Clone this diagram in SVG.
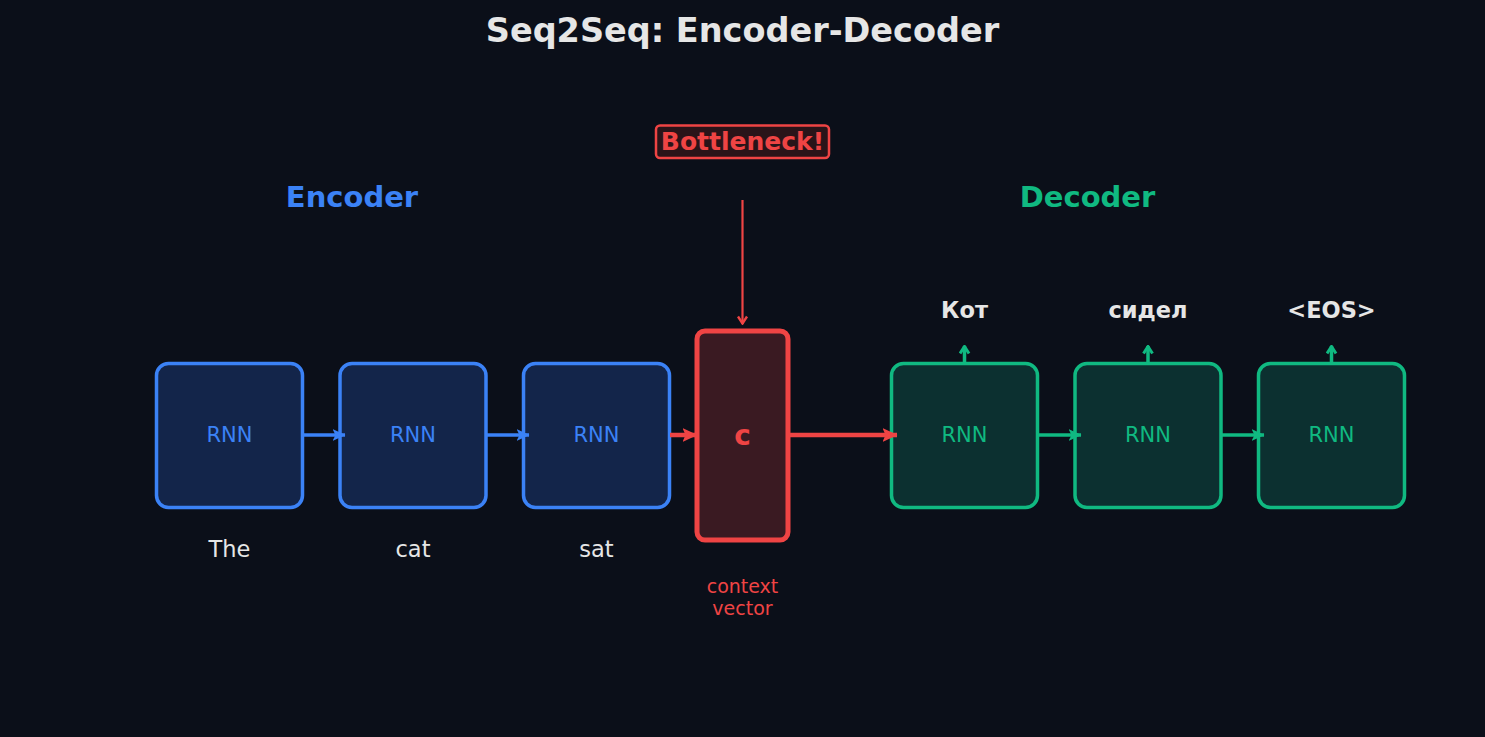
<svg xmlns="http://www.w3.org/2000/svg" width="1485" height="737" viewBox="0 0 1485 737">
<defs>
<style>
text{font-family:"DejaVu Sans","Noto Sans",sans-serif;text-anchor:middle;dominant-baseline:central}
.enc rect{fill:#13254a;stroke:#3b82f6;stroke-width:3.5}
.dec rect{fill:#0c3030;stroke:#10b981;stroke-width:3.5}
.rnnE{fill:#3b82f6;font-size:21px}
.rnnD{fill:#10b981;font-size:21px}
.word{fill:#e6e6e6;font-size:22.5px}
.out{fill:#e6e6e6;font-size:22.5px;font-weight:bold}
.b{stroke:#3b82f6;stroke-width:3.5;fill:none}
.g{stroke:#10b981;stroke-width:3.5;fill:none}
.r{stroke:#ef4444;stroke-width:4.5;fill:none}
</style>
<marker id="mb" viewBox="0 0 13 13" refX="12.5" refY="6.5" markerWidth="13" markerHeight="13" orient="auto" markerUnits="userSpaceOnUse"><path d="M0,0.5 L13,6.5 L0,12.5 L3,6.5 Z" fill="#3b82f6"/></marker>
<marker id="mg" viewBox="0 0 13 13" refX="12.5" refY="6.5" markerWidth="13" markerHeight="13" orient="auto" markerUnits="userSpaceOnUse"><path d="M0,0.5 L13,6.5 L0,12.5 L3,6.5 Z" fill="#10b981"/></marker>
<marker id="mr" viewBox="0 0 15 15" refX="14.5" refY="7.5" markerWidth="15" markerHeight="15" orient="auto" markerUnits="userSpaceOnUse"><path d="M0,0.5 L15,7.5 L0,14.5 L3,7.5 Z" fill="#ef4444"/></marker>
<marker id="mgo" viewBox="0 0 10 12" refX="9" refY="6" markerWidth="10" markerHeight="12" orient="auto" markerUnits="userSpaceOnUse"><path d="M1.5,1.5 L8.5,6 L1.5,10.5" fill="none" stroke="#10b981" stroke-width="3"/></marker>
<marker id="mro" viewBox="0 0 10 12" refX="9" refY="6" markerWidth="10" markerHeight="12" orient="auto" markerUnits="userSpaceOnUse"><path d="M1.5,1.5 L8.5,6 L1.5,10.5" fill="none" stroke="#ef4444" stroke-width="2.4"/></marker>
</defs>
<rect width="1485" height="737" fill="#0b0f19"/>
<text x="742.5" y="30" font-size="33.5" font-weight="bold" fill="#e6e6e6">Seq2Seq: Encoder-Decoder</text>
<text x="352" y="197" font-size="29" font-weight="bold" fill="#3b82f6">Encoder</text>
<text x="1087.5" y="197" font-size="29" font-weight="bold" fill="#10b981">Decoder</text>
<g id="bottleneck">
<rect x="656" y="125.5" width="173" height="32.5" rx="4" fill="#2a1419" stroke="#ef4444" stroke-width="2.5"/>
<text x="742.5" y="141.5" font-size="25" font-weight="bold" fill="#ef4444">Bottleneck!</text>
</g>
<g id="enc1" class="enc"><rect x="156.5" y="363.5" width="146" height="144" rx="12"/><text class="rnnE" x="229.5" y="435">RNN</text></g>
<g id="enc2" class="enc"><rect x="340" y="363.5" width="146" height="144" rx="12"/><text class="rnnE" x="413" y="435">RNN</text></g>
<g id="enc3" class="enc"><rect x="523.5" y="363.5" width="146" height="144" rx="12"/><text class="rnnE" x="596.5" y="435">RNN</text></g>
<text class="word" x="229.5" y="549">The</text>
<text class="word" x="413" y="549">cat</text>
<text class="word" x="596.5" y="549">sat</text>
<g id="context">
<rect x="697" y="331" width="91" height="209" rx="8" fill="#3a1a22" stroke="#ef4444" stroke-width="5"/>
<text x="742.5" y="435" font-size="28" font-weight="bold" fill="#ef4444">c</text>
<text x="742.5" y="586" font-size="19" fill="#ef4444">context</text>
<text x="742.5" y="608" font-size="19" fill="#ef4444">vector</text>
</g>
<g id="dec1" class="dec"><rect x="891.5" y="363.5" width="146" height="144" rx="12"/><text class="rnnD" x="964.5" y="435">RNN</text></g>
<g id="dec2" class="dec"><rect x="1075" y="363.5" width="146" height="144" rx="12"/><text class="rnnD" x="1148" y="435">RNN</text></g>
<g id="dec3" class="dec"><rect x="1258.5" y="363.5" width="146" height="144" rx="12"/><text class="rnnD" x="1331.5" y="435">RNN</text></g>
<text class="out" x="964.5" y="310">Кот</text>
<text class="out" x="1148" y="310">сидел</text>
<text class="out" x="1331.5" y="310">&lt;EOS&gt;</text>
<g id="connectors">
<line class="b" x1="303" y1="435" x2="345" y2="435" marker-end="url(#mb)"/>
<line class="b" x1="487" y1="435" x2="529" y2="435" marker-end="url(#mb)"/>
<line class="r" x1="670" y1="435" x2="697" y2="435" marker-end="url(#mr)"/>
<line class="r" x1="789" y1="435" x2="897" y2="435" marker-end="url(#mr)"/>
<line class="g" x1="1038" y1="435" x2="1081" y2="435" marker-end="url(#mg)"/>
<line class="g" x1="1222" y1="435" x2="1264" y2="435" marker-end="url(#mg)"/>
<line class="g" x1="964.5" y1="365" x2="964.5" y2="346" stroke-width="3" marker-end="url(#mgo)"/>
<line class="g" x1="1148" y1="365" x2="1148" y2="346" stroke-width="3" marker-end="url(#mgo)"/>
<line class="g" x1="1331.5" y1="365" x2="1331.5" y2="346" stroke-width="3" marker-end="url(#mgo)"/>
<line x1="742.5" y1="200" x2="742.5" y2="324" stroke="#ef4444" stroke-width="2.2" marker-end="url(#mro)"/>
</g>
</svg>
